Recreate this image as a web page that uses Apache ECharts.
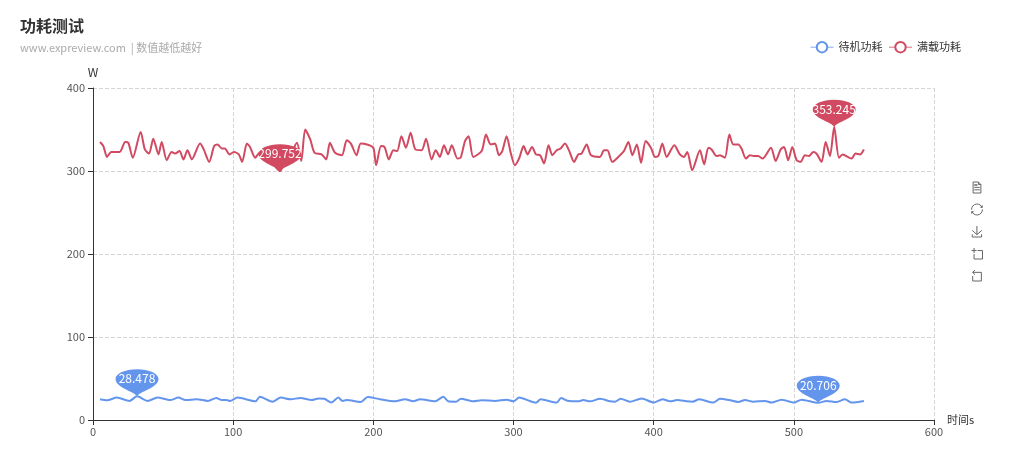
<!DOCTYPE html>
<html><head><meta charset="utf-8">
<style>html,body{margin:0;padding:0;background:#fff}#c{width:1023px;height:463px}</style>
<script src="https://cdn.jsdelivr.net/npm/echarts@6/dist/echarts.min.js"></script>
</head><body><div id="c"></div>
<script>
const seriesNames = ['待机功耗', '满载功耗'];
const idleTimes = [5,10,17,26,31.4,39,46,55,61,66,74,82,88,92,95,98,103,116,119,128,134,141,148,156,161,165,170,175,178,181,191,196,
  204.75,215.5,222.6,228.5,233.3,244,250,253.5,259,262.5,271.3,277.3,286.8,295,300,304,316,319.4,330.8,333.9,338.4,346.2,349.8,354.6,361.7,368.8,372.4,376.4,383,391.4,400,406.4,
  411.6,416.8,423.5,427.8,432.5,442.5,447.3,453.9,460.4,465.1,471,479.4,484.1,491.3,500,505.5,517.4,523.4,530.5,536.4,541.2,550];
const idleValues = [25,23.7,27,23,28.478,23,27,24,27,24,25,23,26.5,24,24.2,23,27,22.5,27.9,22,27,25,26.5,24,26,25.6,21,27,23,24,21.7,27.7,
  25,22.5,25,22.5,25,22.5,28,22.5,22,25.5,22.5,23.7,23,24.5,22.5,27,20.8,25,21,26.5,23.3,22.5,24,22.5,25.5,22.5,22,25.7,22,26,21,25,
  22.5,24,22.5,22,25,21,25.5,24,21.7,24,22,23,21,24.5,21,24.5,20.706,23,21.7,25,21,23];
const loadTimes = [5,7.4,10,13,19,23,25.2,28.4,34,37,40,43,46.7,49,52.6,56,58.6,61.7,64.5,67.4,70.5,76.4,79,82.9,86.4,88.8,92,94,97.4,100.6,104,106.4,109.8,112,115.7,119,125,128,133.4,137,141,145.5,148.6,151.4,155,158,163,166.4,169,172.7,177.6,181,184,188,191,195.5,200,202,
  205.5,208,211,214.3,217,220,223.3,226.6,230,234.5,237.6,241.6,244.5,247.5,250.4,253.3,256,260,262.3,265.4,268,271.3,277.3,280.4,283.7,286.8,289.6,292,295.1,298,301,304.2,307.2,310,313.2,316,319,321.8,325,327.7,330.8,333.6,336.7,339.8,343.2,346.2,348.6,352.2,355.3,361.7,364.6,367,370.5,376,378.8,382,384.8,388,391,394.3,398,401,403.3,406.2,409.3,
  414.7,418.7,421.6,424,427.5,433,436,439,441.3,444.9,447.3,450.8,454,456.8,460.4,462.7,465.8,468.7,471.5,474.6,477.7,483.7,487,490.6,493,496,498.9,502,504.8,507.9,510.8,513.9,516.2,519.8,522.7,525.8,528.8,532.2,534.8,541.2,544,547.2,550];
const loadValues = [335,330,317,323,323,335,334,316,347,326,321,339,320,335,313,323,321,324,314,325,314,333,326,311,330,332,327,327,320,323,320,311,333,329,316,322,318,310,299.752,312,320,334,312,350,338,322,320,314,334,322,319,337,333,319,333,332,328,307,
  330,329,314,325,324,342,328,346,326,325,339,314,325,317,331,320,331,315,316,336,342,317,324,344,332,333,319,324,342,322,307,316,330,320,329,320,319,309,331,319,325,327,333,324,311,320,321,332,319,317,325,325,311,319,324,335,319,332,310,336,328,317,318,333,317,
  331,320,317,323,301,325,308,328,326,318,319,316,344,332,332,327,315,319,318,318,315,328,312,326,329,313,329,313,311,319,318,323,321,311,335,318,353.245,316,320,315,321,320,326];
const xTicks = {min:0,max:600,interval:100};
const yTicks = {min:0,max:400,interval:100};
const IDLE = '#6495ed', LOAD = '#d14a61';
const pair = (t,v) => t.map((x,i)=>[x,v[i]]);
const chart = echarts.init(document.getElementById('c'),null,{renderer:'canvas'});
const FONT = '"Noto Sans CJK SC","Noto Sans",sans-serif';
const PIN = 'path://M50 100C46 84 0 68 0 36C0 16 22 0 50 0C78 0 100 16 100 36C100 68 54 84 50 100Z';
const pin = (type,color) => ({type, symbol:PIN, symbolSize:[43,27], symbolOffset:[0,-13.5], itemStyle:{color},
  label:{color:'#fff',fontSize:12,fontFamily:FONT,position:'inside',offset:[0,-4]}});
const legendItem = (name,color) => ({name,
  itemStyle:{borderColor:color,borderWidth:0.8},
  lineStyle:{color,width:1,opacity:0.8}});
const dashed = {show:true,lineStyle:{type:'dashed',color:'#d5d5d5',width:1}};
chart.setOption({
  animation:false,
  textStyle:{fontFamily:FONT},
  title:{left:15,top:13,text:'功耗测试',subtext:'www.expreview.com  | 数值越低越好',itemGap:8,
    textStyle:{fontSize:16,fontWeight:'bold',color:'#333',fontFamily:FONT},
    subtextStyle:{fontSize:11,color:'#aaa',fontFamily:FONT}},
  legend:{data:[legendItem(seriesNames[0],IDLE),legendItem(seriesNames[1],LOAD)],right:57,top:36,itemWidth:23,itemHeight:13,itemGap:6,textStyle:{fontSize:11,color:'#333'}},
  toolbox:{show:true,orient:'vertical',right:23,top:'center',itemSize:11,itemGap:6,
    iconStyle:{borderColor:'#666',color:'none',borderWidth:1},
    feature:{dataView:{},restore:{},saveAsImage:{},dataZoom:{}}},
  grid:{left:93,right:89,top:88,bottom:43,containLabel:false},
  xAxis:{type:'value',...xTicks,name:'时间s',nameGap:13,nameTextStyle:{color:'#333',fontSize:11,verticalAlign:'middle',padding:[0,0,4,0]},
    axisLine:{show:true,lineStyle:{color:'#333'}},axisTick:{show:true,length:5,lineStyle:{color:'#333'}},
    axisLabel:{color:'#555',fontSize:11,margin:6,showMinLabel:true,showMaxLabel:true},splitLine:dashed},
  yAxis:{type:'value',...yTicks,name:'W',nameGap:10,nameTextStyle:{color:'#333',fontSize:12,align:'center'},
    axisLine:{show:true,lineStyle:{color:'#333'}},axisTick:{show:true,length:5,lineStyle:{color:'#333'}},
    axisLabel:{color:'#555',fontSize:11,margin:8,showMinLabel:true,showMaxLabel:true},splitLine:dashed},
  series:[
    {name:seriesNames[0],type:'line',smooth:0.25,showSymbol:false,symbol:'emptyCircle',symbolSize:12,
     data:pair(idleTimes,idleValues),lineStyle:{width:2,color:IDLE},itemStyle:{color:IDLE},
     markPoint:{data:[pin('max',IDLE),pin('min',IDLE)]}},
    {name:seriesNames[1],type:'line',smooth:0.25,showSymbol:false,symbol:'emptyCircle',symbolSize:12,
     data:pair(loadTimes,loadValues),lineStyle:{width:2,color:LOAD},itemStyle:{color:LOAD},
     markPoint:{data:[pin('max',LOAD),pin('min',LOAD)]}}
  ]
});
</script></body></html>
